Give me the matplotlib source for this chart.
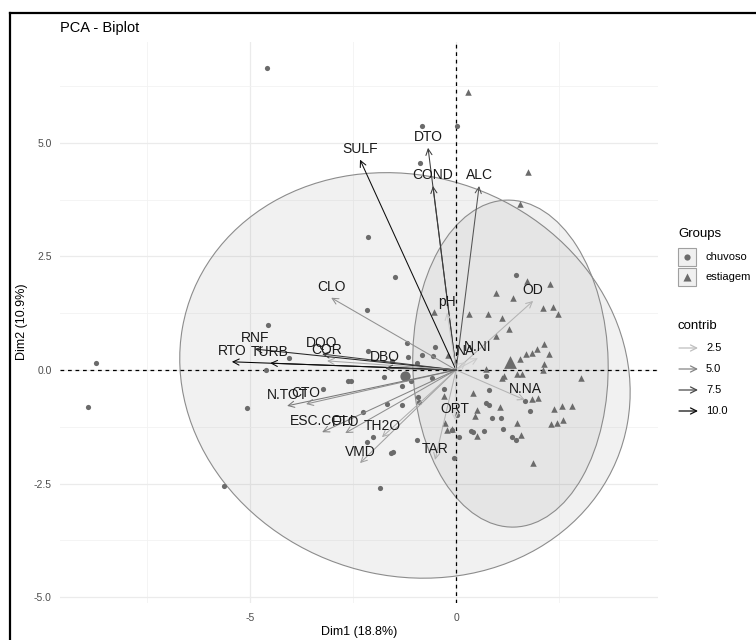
import numpy as np
import matplotlib
matplotlib.use("Agg")
import matplotlib.pyplot as plt
from matplotlib.patches import Ellipse, Rectangle
from matplotlib.colors import LinearSegmentedColormap, Normalize

plt.rcParams["font.family"] = ["Liberation Sans", "DejaVu Sans"]

# individuals on Dim1 / Dim2
chuvoso_x = [-8.74, -8.93, -4.56, -4.05, -4.61, -5.07, -5.63, -4.59, -2.14, -2.16,
             -0.83, -0.87, 0.02, -1.48, 1.46, 0.73, -0.29, 0.80, 0.73, 0.80,
             1.67, 1.80, 0.87, 1.09, 1.14, 0.68, 0.36, 0.41, -0.10, 0.07,
             1.36, 1.46, -0.05, 0.02, -0.51, -0.83, -1.19, -1.17, -0.95, -0.58,
             -1.31, -1.53, -1.58, -1.84, -2.14, -1.75, -2.62, -2.55, -1.31, -1.09,
             -3.23, -1.67, -0.92, -2.26, -2.01, -2.16, -0.95, -0.90, -1.55, -0.56]
chuvoso_y = [0.15, -0.81, 0.99, 0.26, 0.00, -0.84, -2.56, 6.65, 2.93, 1.32,
             5.37, 4.56, 5.37, 2.05, 2.09, -0.13, -0.42, -0.44, -0.73, -0.77,
             -0.68, -0.90, -1.06, -1.06, -1.30, -1.34, -1.34, -1.37, -1.32, -1.48,
             -1.48, -1.54, -1.94, -0.99, 0.51, 0.33, 0.59, 0.29, 0.15, -0.18,
             -0.77, -1.81, -1.83, -2.60, 0.42, -0.15, -0.24, -0.24, -0.35, -0.24,
             -0.42, -0.75, -0.59, -0.92, -1.48, -1.59, -1.54, -0.70, 0.20, 0.31]

estiagem_x = [0.29, 1.75, 1.55, 2.28, 1.72, 0.97, 1.38, 2.11, 2.35, 2.48,
              0.32, 0.78, 1.12, 1.29, 0.97, 2.14, 1.97, 1.84, 1.70, 2.26,
              1.55, 2.14, 2.11, 1.48, 1.60, 1.17, 1.12, 0.73, 3.03, -0.19,
              1.84, 1.99, 0.41, 1.07, 0.51, 0.46, 1.48, 2.38, 2.57, 2.82,
              2.31, 2.45, 2.60, 0.51, 1.58, 1.87, -0.27, -0.22, -0.10, -0.29,
              -0.53]
estiagem_y = [6.12, 4.36, 3.66, 1.89, 1.96, 1.70, 1.59, 1.37, 1.39, 1.23,
              1.23, 1.23, 1.15, 0.90, 0.75, 0.57, 0.46, 0.37, 0.35, 0.35,
              0.24, 0.13, 0.00, -0.09, -0.09, -0.13, -0.18, 0.02, -0.18, 0.33,
              -0.64, -0.62, -0.51, -0.81, -0.88, -1.01, -1.17, -0.86, -0.79, -0.79,
              -1.19, -1.17, -1.10, -1.45, -1.43, -2.05, -1.17, -1.32, -1.30, -0.57,
              1.28]

group_names = ["chuvoso", "estiagem"]
group_mean_x = [-1.24, 1.31]
group_mean_y = [-0.13, 0.17]
ellipse_cx = [-1.24, 1.32]
ellipse_cy = [-0.12, 0.14]
ellipse_w = [11.0, 4.74]
ellipse_h = [8.84, 7.2]
ellipse_angle = [-11.0, 1.5]

# variables: arrow tips and contribution
var_names = ["SULF", "DTO", "COND", "ALC", "CLO", "pH", "OD", "NA", "N.NI", "N.NA",
             "ORT", "TAR", "VMD", "TH2O", "FTO", "ESC.COLI", "CTO", "N.TOT",
             "RTO", "TURB", "RNF", "DQO", "COR", "DBO"]
var_x = [-2.33, -0.68, -0.56, 0.56, -3.03, -0.22, 1.87, 0.24, 0.53, 1.67,
         -0.03, -0.51, -2.33, -1.80, -2.69, -3.25, -3.64, -4.10,
         -5.44, -4.51, -4.88, -3.25, -3.13, -1.72]
var_y = [4.63, 4.89, 4.05, 4.05, 1.59, 1.26, 1.52, 0.18, 0.26, -0.66,
         -1.10, -1.98, -2.05, -1.48, -1.39, -1.37, -0.75, -0.79,
         0.18, 0.15, 0.46, 0.35, 0.20, 0.04]
var_contrib = [10.0, 8.0, 8.0, 7.0, 4.5, 2.0, 3.0, 2.0, 2.0, 3.0,
               1.8, 3.0, 3.8, 3.2, 4.5, 5.0, 4.5, 5.5,
               10.5, 10.0, 9.0, 8.0, 3.5, 7.5]
contrib_breaks = [2.5, 5.0, 7.5, 10.0]

PT = "#6b6b6b"
cmap = LinearSegmentedColormap.from_list("contrib", ["#e2e2e2", "#000000"])
norm = Normalize(1.0, 10.6)

fig = plt.figure(figsize=(7.56, 6.4), dpi=100)
ax = fig.add_axes([60 / 756, 37 / 640, 598 / 756, 561 / 640])
ax.set_xlim(-9.61, 4.9)
ax.set_ylim(-5.13, 7.22)
for s in ax.spines.values():
    s.set_visible(False)
ax.set_xticks([-5, 0])
ax.set_xticklabels(["-5", "0"])
ax.set_xticks([-7.5, -2.5, 2.5], minor=True)
ax.set_yticks([-5, -2.5, 0, 2.5, 5])
ax.set_yticklabels(["-5.0", "-2.5", "0.0", "2.5", "5.0"])
ax.set_yticks([-3.75, -1.25, 1.25, 3.75, 6.25], minor=True)
ax.tick_params(which="both", length=0, labelsize=7.5, labelcolor="#4d4d4d")
ax.tick_params(axis="x", pad=7)
ax.tick_params(axis="y", pad=6)
ax.grid(which="major", color="#ebebeb", lw=0.9)
ax.grid(which="minor", color="#f2f2f2", lw=0.6)
ax.set_axisbelow(True)

for cx, cy, w, h, ang in zip(ellipse_cx, ellipse_cy, ellipse_w, ellipse_h, ellipse_angle):
    ax.add_patch(Ellipse((cx, cy), w, h, angle=ang, facecolor=(0.4, 0.4, 0.4, 0.085),
                         edgecolor="#8c8c8c", lw=0.8, zorder=1))

ax.axhline(0, color="black", ls=(0, (3, 3)), lw=0.9, zorder=2)
ax.axvline(0, color="black", ls=(0, (3, 3)), lw=0.9, zorder=2)

ax.scatter(chuvoso_x, chuvoso_y, s=14, marker="o", color=PT, lw=0, zorder=3)
ax.scatter(estiagem_x, estiagem_y, s=22, marker="^", color=PT, lw=0, zorder=3)
ax.scatter(group_mean_x[:1], group_mean_y[:1], s=55, marker="o", color=PT, lw=0, zorder=3)
ax.scatter(group_mean_x[1:], group_mean_y[1:], s=85, marker="^", color=PT, lw=0, zorder=3)

for name, x, y, c in zip(var_names, var_x, var_y, var_contrib):
    ax.annotate("", xy=(x, y), xytext=(0, 0), zorder=4,
                arrowprops=dict(arrowstyle="->", color=cmap(norm(c)), lw=0.75,
                                shrinkA=0, shrinkB=0, mutation_scale=11))
for name, x, y in zip(var_names, var_x, var_y):
    ax.annotate(name, xy=(x, y), xytext=(0, 5), textcoords="offset points",
                ha="center", va="baseline", fontsize=10, color="#1a1a1a", zorder=5)

# overlay in pixel units for title, axis titles, legends, frame
ov = fig.add_axes([0, 0, 1, 1], facecolor="none")
ov.set_xlim(0, 756)
ov.set_ylim(640, 0)
ov.set_axis_off()
ov.plot([10, 10], [640, 13], color="black", lw=1.6, solid_capstyle="projecting")
ov.plot([10, 756], [13, 13], color="black", lw=1.6, solid_capstyle="projecting")
ov.text(60, 28, "PCA - Biplot", fontsize=10.5, ha="left", va="center")
ov.text(359, 632, "Dim1 (18.8%)", fontsize=9, ha="center", va="center")
ov.text(22, 322, "Dim2 (10.9%)", fontsize=9, ha="center", va="center", rotation=90)

ov.text(678, 234, "Groups", fontsize=9.5, ha="left", va="center")
for i, (name, mk, sz) in enumerate(zip(group_names, ["o", "^"], [20, 34])):
    yc = 257 + i * 20
    ov.add_patch(Rectangle((678, yc - 9), 18, 18, facecolor="#f0f0f0",
                           edgecolor="#a0a0a0", lw=0.8))
    ov.scatter([687], [yc], marker=mk, s=sz, color=PT, lw=0)
    ov.text(706, yc, name, fontsize=8, ha="left", va="center")

ov.text(678, 326, "contrib", fontsize=9.5, ha="left", va="center")
for i, b in enumerate(contrib_breaks):
    yc = 348 + i * 21
    ov.annotate("", xy=(698, yc), xytext=(679, yc),
                arrowprops=dict(arrowstyle="->", color=cmap(norm(b)), lw=0.9,
                                shrinkA=0, shrinkB=0, mutation_scale=11))
    ov.text(706, yc, f"{b:.1f}", fontsize=8, ha="left", va="center")

fig.savefig("out.png", dpi=100)
